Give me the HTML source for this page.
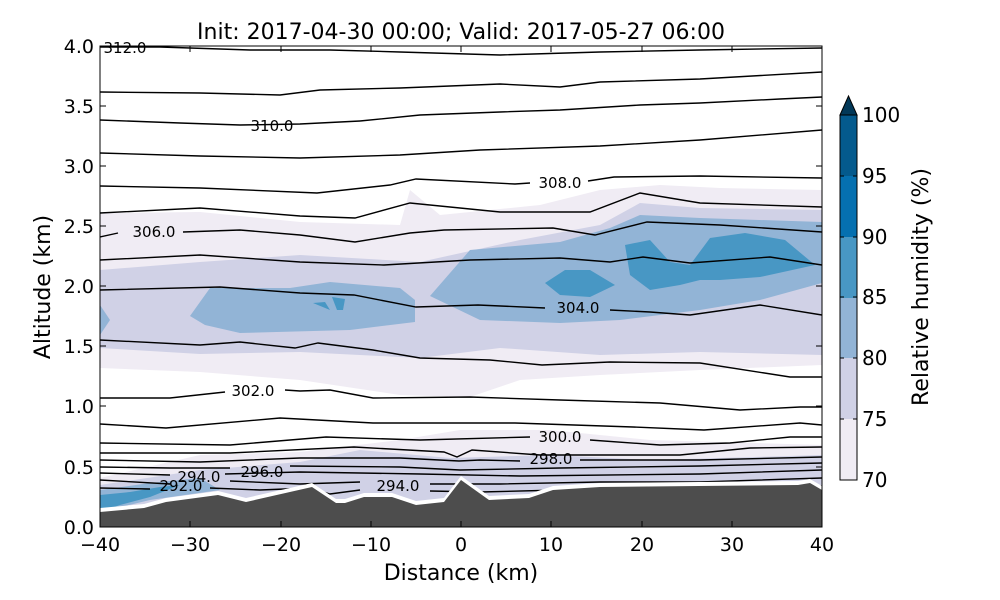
<!DOCTYPE html><html><head><style>body{margin:0;background:#fff}svg{display:block}text{font-family:"DejaVu Sans","Liberation Sans",sans-serif}</style></head><body>
<svg width="1000" height="600" viewBox="0 0 1000 600">
<defs><clipPath id="c"><rect x="100" y="46" width="722" height="481"/></clipPath></defs>
<g clip-path="url(#c)">
<!-- band 70-75 -->
<path fill="#f0ecf4" d="M100,213 L200,212 L300,222 L400,225 L410,190 L440,215 L540,205 L600,190 L660,185 L720,188 L822,190 L822,365 L700,370 L600,375 L520,380 L470,397 L400,395 L300,380 L200,372 L100,368 Z"/>
<path fill="#f0ecf4" d="M100,478 L200,455 L300,452 L400,440 L460,430 L550,430 L650,440 L822,445 L822,510 L100,520 Z"/>
<!-- band 75-80 -->
<path fill="#d0d1e6" d="M100,270 L200,262 L300,255 L420,262 L520,240 L600,225 L640,203 L700,208 L822,210 L822,355 L700,352 L600,355 L500,348 L420,358 L300,352 L200,354 L100,348 Z"/>
<path fill="#d0d1e6" d="M100,485 L200,470 L300,462 L360,450 L450,458 L550,455 L650,460 L822,455 L822,510 L100,520 Z"/>
<!-- band 80-85 -->
<path fill="#92b4d6" d="M100,305 L110,320 L100,335 Z"/>
<path fill="#92b4d6" d="M190,316 L210,288 L290,288 L330,282 L400,288 L415,300 L415,322 L350,330 L240,333 L205,325 Z"/>
<path fill="#92b4d6" d="M430,296 L470,250 L560,242 L610,228 L640,215 L700,218 L822,222 L822,283 L760,300 L700,310 L620,320 L560,323 L480,320 Z"/>
<path fill="#92b4d6" d="M100,490 L150,483 L200,478 L220,490 L150,500 L100,512 Z"/>
<!-- band 85-90 -->
<path fill="#4897c4" d="M545,283 L565,270 L590,270 L615,285 L590,297 L560,295 Z"/>
<path fill="#4897c4" d="M625,245 L650,240 L670,262 L690,265 L710,238 L745,233 L785,240 L815,265 L760,277 L720,280 L700,280 L680,285 L650,290 L630,275 Z"/>
<path fill="#4897c4" d="M313,303 L325,302 L330,310 Z"/>
<path fill="#4897c4" d="M332,297 L345,299 L343,310 L337,310 Z"/>
<path fill="#4897c4" d="M100,495 L130,492 L160,487 L180,485 L150,497 L120,505 L100,512 Z"/>
<!-- contours -->
<g fill="none" stroke="#000" stroke-width="1.4">
<polyline points="100,47 160,47 250,50 330,50 400,52 500,55 600,52 700,50 822,48"/>
<polyline points="100,92 200,93 280,95 320,90 400,88 500,84 560,87 600,82 700,79 822,72"/>
<polyline points="100,120 180,123 240,125 300,124 360,121"/>
<polyline points="360,121 420,115 500,112 560,110 640,105 700,103 780,99 822,97"/>
<polyline points="100,153 200,156 300,158 400,155 480,150 600,146 700,140 822,130"/>
<polyline points="100,186 200,188 317,193 390,185 416,179 515,184 530,183"/>
<polyline points="588,181 614,177 700,176 822,178"/>
<polyline points="100,213 200,208 300,216 355,218 410,203 500,212 590,212 640,193 700,203 822,207"/>
<polyline points="100,237 118,233"/><polyline points="183,232 240,230 300,235 355,242 410,233 444,230 553,228 595,235 647,222 720,225 822,232"/>
<polyline points="100,260 200,255 300,262 384,265 470,260 560,258 610,262 643,257 690,263 770,257 822,265"/>
<polyline points="100,290 220,287 300,293 354,295 416,307 478,305 545,308"/>
<polyline points="610,310 650,312 690,315 760,305 822,315"/>
<polyline points="100,340 200,345 240,342 295,348 318,343 373,350 420,358 490,360 542,365 610,362 700,363 790,377 822,377"/>
<polyline points="100,398 170,398 225,392"/><polyline points="285,390 300,391 330,390 373,398 470,397 560,400 660,403 740,410 800,407 822,407"/>
<polyline points="100,424 166,428 280,418 373,423 515,423 633,427 704,430 800,423 822,425"/>
<polyline points="100,443 230,445 326,437 420,440 530,437"/><polyline points="590,440 660,445 730,443 790,437 822,437"/>
<polyline points="100,453 230,453 354,447 444,452 457,457 472,450 540,455 680,455 750,448 822,447"/>
<polyline points="100,460 200,462 300,458 400,458 459,461 480,460 520,461"/><polyline points="580,460 700,460 822,457"/>
<polyline points="100,467 170,468 230,468"/><polyline points="290,466 400,467 460,470 560,468 700,466 822,463"/>
<polyline points="100,473 170,475"/><polyline points="225,474 300,472 420,474 520,476 700,474 822,470"/>
<polyline points="100,480 170,484"/><polyline points="230,481 300,484 360,482"/><polyline points="430,484 500,484 600,482 700,482 822,478"/>
<polyline points="100,488 150,489"/><polyline points="210,488 260,490 310,488 330,494 360,490"/><polyline points="430,491 480,492 560,490 822,486"/>
</g>
<polygon fill="#fff" points="100,508 144,504 166,498 218,491 246,498 312,483 336,499 345,499 364,493 392,493 416,501 444,498 461,476 489,496 529,494 553,486 600,483 798,481 810,479 822,486 822,527 100,527"/>
<polygon fill="#4d4d4d" points="100,512 144,508 166,502 218,495 246,502 312,487 336,503 345,503 364,497 392,497 416,505 444,502 461,480 489,500 529,498 553,490 600,487 798,485 810,483 822,490 822,527 100,527"/>
</g>
<!-- contour labels -->
<g font-size="15" fill="#000" text-anchor="middle">
<text x="125" y="53">312.0</text>
<text x="272" y="131">310.0</text>
<text x="560" y="188">308.0</text>
<text x="154" y="237">306.0</text>
<text x="578" y="313">304.0</text>
<text x="253" y="396">302.0</text>
<text x="560" y="442">300.0</text>
<text x="551" y="464">298.0</text>
<text x="262" y="477">296.0</text>
<text x="398" y="491">294.0</text>
<text x="199" y="482">294.0</text>
<text x="181" y="491">292.0</text>
</g>
<rect x="100" y="46" width="722" height="481" fill="none" stroke="#000" stroke-width="1"/>
<!-- ticks -->
<g stroke="#000" stroke-width="1">
<path d="M100,527h6M100,467h6M100,406h6M100,346h6M100,286h6M100,226h6M100,166h6M100,106h6M100,46h6"/>
<path d="M822,527h-6M822,467h-6M822,406h-6M822,346h-6M822,286h-6M822,226h-6M822,166h-6M822,106h-6M822,46h-6"/>
<path d="M100,527v-6M190,527v-6M281,527v-6M371,527v-6M461,527v-6M551,527v-6M642,527v-6M732,527v-6M822,527v-6"/>
<path d="M100,46v6M190,46v6M281,46v6M371,46v6M461,46v6M551,46v6M642,46v6M732,46v6M822,46v6"/>
</g>
<g font-size="19" text-anchor="end">
<text x="94" y="534">0.0</text><text x="94" y="474">0.5</text><text x="94" y="413">1.0</text><text x="94" y="353">1.5</text><text x="94" y="293">2.0</text><text x="94" y="233">2.5</text><text x="94" y="173">3.0</text><text x="94" y="113">3.5</text><text x="94" y="53">4.0</text>
</g>
<g font-size="19" text-anchor="middle">
<text x="100" y="551">−40</text><text x="190" y="551">−30</text><text x="281" y="551">−20</text><text x="371" y="551">−10</text><text x="461" y="551">0</text><text x="551" y="551">10</text><text x="642" y="551">20</text><text x="732" y="551">30</text><text x="822" y="551">40</text>
</g>
<text x="461" y="580" font-size="22" text-anchor="middle">Distance (km)</text>
<text x="50" y="287" font-size="22" text-anchor="middle" transform="rotate(-90 50 287)">Altitude (km)</text>
<text x="461" y="39" font-size="22" text-anchor="middle">Init: 2017-04-30 00:00; Valid: 2017-05-27 06:00</text>
<!-- colorbar -->
<rect x="840" y="419" width="17" height="61" fill="#f0ecf4"/>
<rect x="840" y="358" width="17" height="61" fill="#d0d1e6"/>
<rect x="840" y="297" width="17" height="61" fill="#92b4d6"/>
<rect x="840" y="237" width="17" height="61" fill="#4897c4"/>
<rect x="840" y="176" width="17" height="61" fill="#0570b0"/>
<rect x="840" y="115" width="17" height="61" fill="#045a8d"/>
<polygon points="840,115 848.5,96 857,115" fill="#023858" stroke="#000"/>
<rect x="840" y="115" width="17" height="365" fill="none" stroke="#000"/>
<g stroke="#000"><path d="M857,419h-4M857,358h-4M857,297h-4M857,237h-4M857,176h-4M840,419h4M840,358h4M840,297h4M840,237h4M840,176h4"/></g>
<g font-size="20"><text x="862" y="487">70</text><text x="862" y="426">75</text><text x="862" y="365">80</text><text x="862" y="304">85</text><text x="862" y="244">90</text><text x="862" y="183">95</text><text x="862" y="122">100</text></g>
<text x="928" y="287" font-size="22" text-anchor="middle" transform="rotate(-90 928 287)">Relative humidity (%)</text>
</svg></body></html>
